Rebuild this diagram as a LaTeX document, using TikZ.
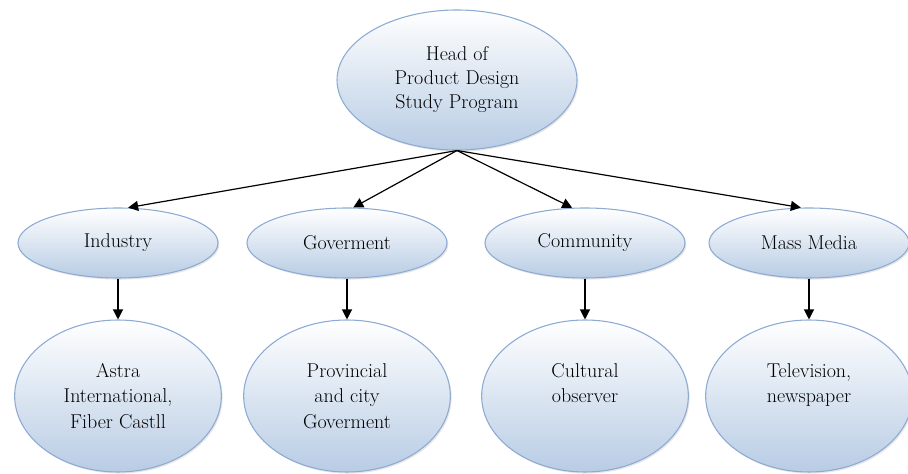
\documentclass[tikz,border=0pt]{standalone}
\usepackage{fontspec}
\usepackage{tikz}
\usetikzlibrary{shapes.geometric,arrows.meta,shadows}
\definecolor{orgline}{RGB}{141,170,212}
\definecolor{orgfill}{RGB}{184,204,228}

\begin{document}
\begin{tikzpicture}[x=0.75pt,y=0.75pt,
    orgbox/.style={ellipse,draw=orgline,line width=0.8pt,top color=white,bottom color=orgfill,
      align=center,inner sep=0pt,font=\fontsize{15}{19}\selectfont,
      drop shadow={shadow xshift=1pt,shadow yshift=-1.2pt,opacity=0.2}},
    orgarrow/.style={-{Triangle[length=7.5pt,width=7.5pt]},line width=0.9pt}]
  \useasboundingbox (0,0) rectangle (908,474);
  % --- head of the study programme ---
  \node[orgbox,minimum width=180pt,minimum height=105pt,font=\fontsize{15}{18}\selectfont]
    (head) at (457,394) {Head of\\Product Design\\Study Program};
  % --- partners (middle row) and examples (bottom row) ---
  % \cx = column centre, \ang = where the arrow from the head lands
  \foreach \nm/\cx/\ang/\lab/\ex in {ind/118/74/Industry/{Astra\\International,\\Fiber Castll},
        gov/347/80/Goverment/{Provincial\\and city\\Goverment},
        com/585/110/Community/{Cultural\\observer\\\mbox{}},
        med/809/103/{Mass Media}/{Television,\\newspaper\\\mbox{}}}{%
    \node[orgbox,minimum width=150pt,minimum height=52.5pt] (\nm) at (\cx,231) {\lab};
    \node[orgbox,minimum width=155pt,minimum height=114pt] (\nm ex) at (\cx,78) {\ex};
    \draw[orgarrow] (head.south) -- (\nm.\ang);
    \draw[orgarrow] (\nm) -- (\nm ex);}
\end{tikzpicture}
\end{document}
